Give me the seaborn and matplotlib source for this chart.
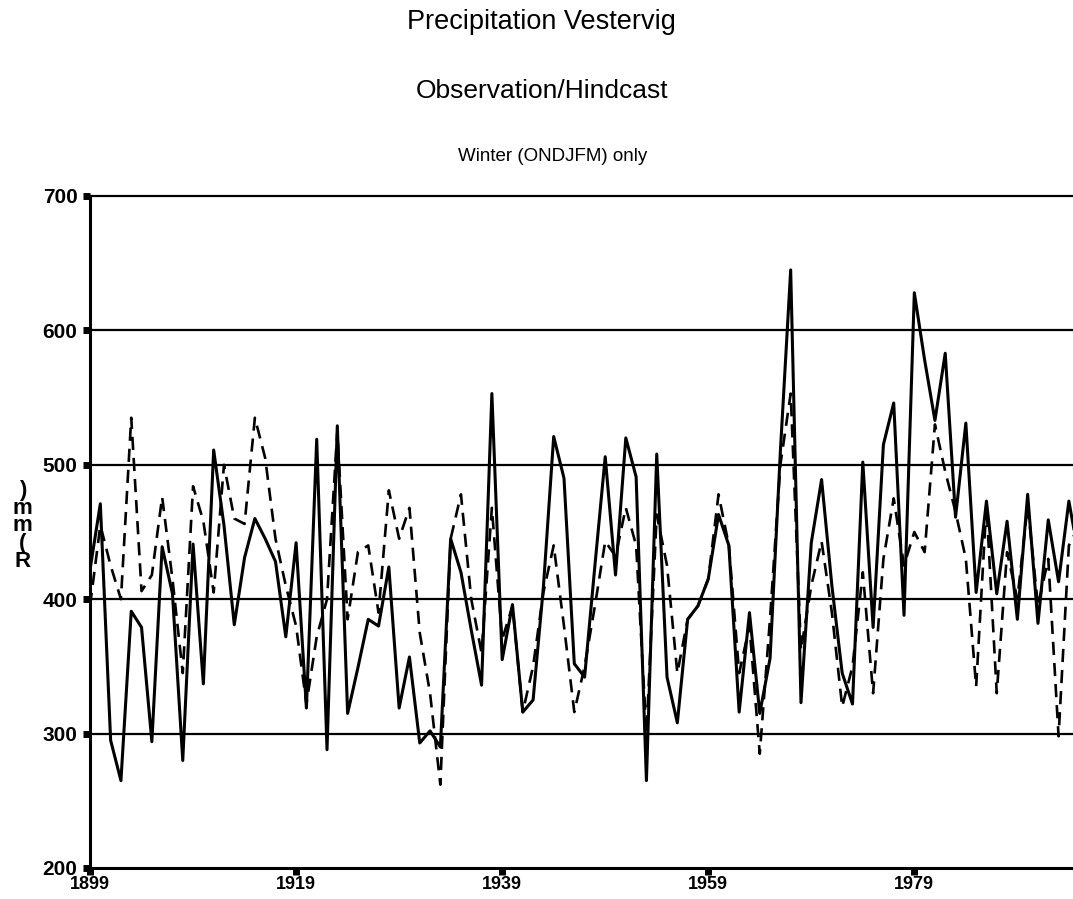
import numpy as np
import pandas as pd
import matplotlib
matplotlib.use("Agg")
import matplotlib.pyplot as plt
import seaborn as sns

# Winter (ONDJFM) precipitation at Vestervig, mm
years = list(range(1899, 1996))

observed = [
    422, 471, 295, 265, 391, 379, 294, 439, 404, 280,
    441, 337, 511, 455, 381, 431, 460, 445, 428, 372,
    442, 319, 519, 288, 529, 315, 349, 385, 380, 424,
    319, 357, 293, 302, 290, 445, 420, 377, 336, 553,
    355, 396, 316, 325, 409, 521, 490, 352, 342, 425,
    506, 418, 520, 491, 265, 508, 342, 308, 385, 395,
    415, 463, 440, 316, 390, 315, 356, 510, 645, 323,
    442, 489, 410, 345, 322, 502, 379, 515, 546, 388,
    628, 578, 533, 583, 461, 531, 405, 473, 404, 458,
    385, 478, 382, 459, 413, 473, 430,
]

hindcast = [
    395, 455, 425, 400, 535, 406, 418, 476, 415, 345,
    484, 458, 405, 500, 460, 456, 535, 505, 445, 410,
    380, 322, 372, 400, 525, 385, 435, 440, 390, 481,
    445, 468, 375, 330, 262, 445, 478, 400, 360, 468,
    370, 395, 316, 350, 405, 440, 380, 316, 350, 395,
    443, 432, 468, 440, 300, 463, 425, 345, 385, 395,
    415, 478, 440, 345, 380, 285, 386, 500, 553, 362,
    410, 443, 390, 320, 350, 420, 330, 430, 475, 425,
    450, 435, 530, 495, 465, 430, 335, 470, 330, 435,
    400, 470, 395, 430, 298, 440, 455,
]

y_ticks = [200, 300, 400, 500, 600, 700]
x_ticks = [1899, 1919, 1939, 1959, 1979]

df = pd.DataFrame({"year": years, "Observation": observed, "Hindcast": hindcast})

sns.set_style("white")
plt.rcParams["font.family"] = ["Liberation Sans", "DejaVu Sans"]
plt.rcParams["text.color"] = "black"
plt.rcParams["xtick.color"] = "black"
plt.rcParams["ytick.color"] = "black"

fig = plt.figure(figsize=(10.73, 8.99), dpi=100)
ax = fig.add_axes([0.0839, 0.0345, 0.9161, 0.7475])

# horizontal reference lines
for v in y_ticks[1:]:
    ax.axhline(v, color="black", lw=1.6, zorder=1, clip_on=False)

sns.lineplot(data=df, x="year", y="Observation", ax=ax, color="black", lw=2.2, zorder=3)
sns.lineplot(data=df, x="year", y="Hindcast", ax=ax, color="black", lw=1.9,
             dashes=False, zorder=2).lines[-1].set_dashes((5, 3))

ax.set_xlim(1899, 1994.4)
ax.set_ylim(200, 700)
ax.set_xticks(x_ticks)
ax.set_yticks(y_ticks)
ax.set_xticklabels([str(t) for t in x_ticks], fontsize=13, fontweight="bold")
ax.set_yticklabels([str(t) for t in y_ticks], fontsize=15, fontweight="bold")
ax.tick_params(axis="both", direction="out", length=5, width=5, color="black",
               left=True, bottom=True)
ax.tick_params(axis="y", pad=4)
ax.tick_params(axis="x", pad=1)

for side in ["top", "right"]:
    ax.spines[side].set_visible(False)
for side in ["left", "bottom"]:
    ax.spines[side].set_color("black")
    ax.spines[side].set_linewidth(2.2)

ax.set_xlabel("")
ax.set_ylabel("")

# stacked vertical unit label
fig.text(0.021, 0.415, "\n".join(reversed("R(mm)")), fontsize=16, fontweight="bold",
         ha="center", va="center", linespacing=0.8)

fig.text(0.505, 0.975, "Precipitation Vestervig", fontsize=19.5, ha="center", va="center")
fig.text(0.505, 0.899, "Observation/Hindcast", fontsize=19, ha="center", va="center")
fig.text(0.515, 0.826, "Winter (ONDJFM) only", fontsize=13.5, ha="center", va="center")

fig.savefig("out.png", dpi=100)
